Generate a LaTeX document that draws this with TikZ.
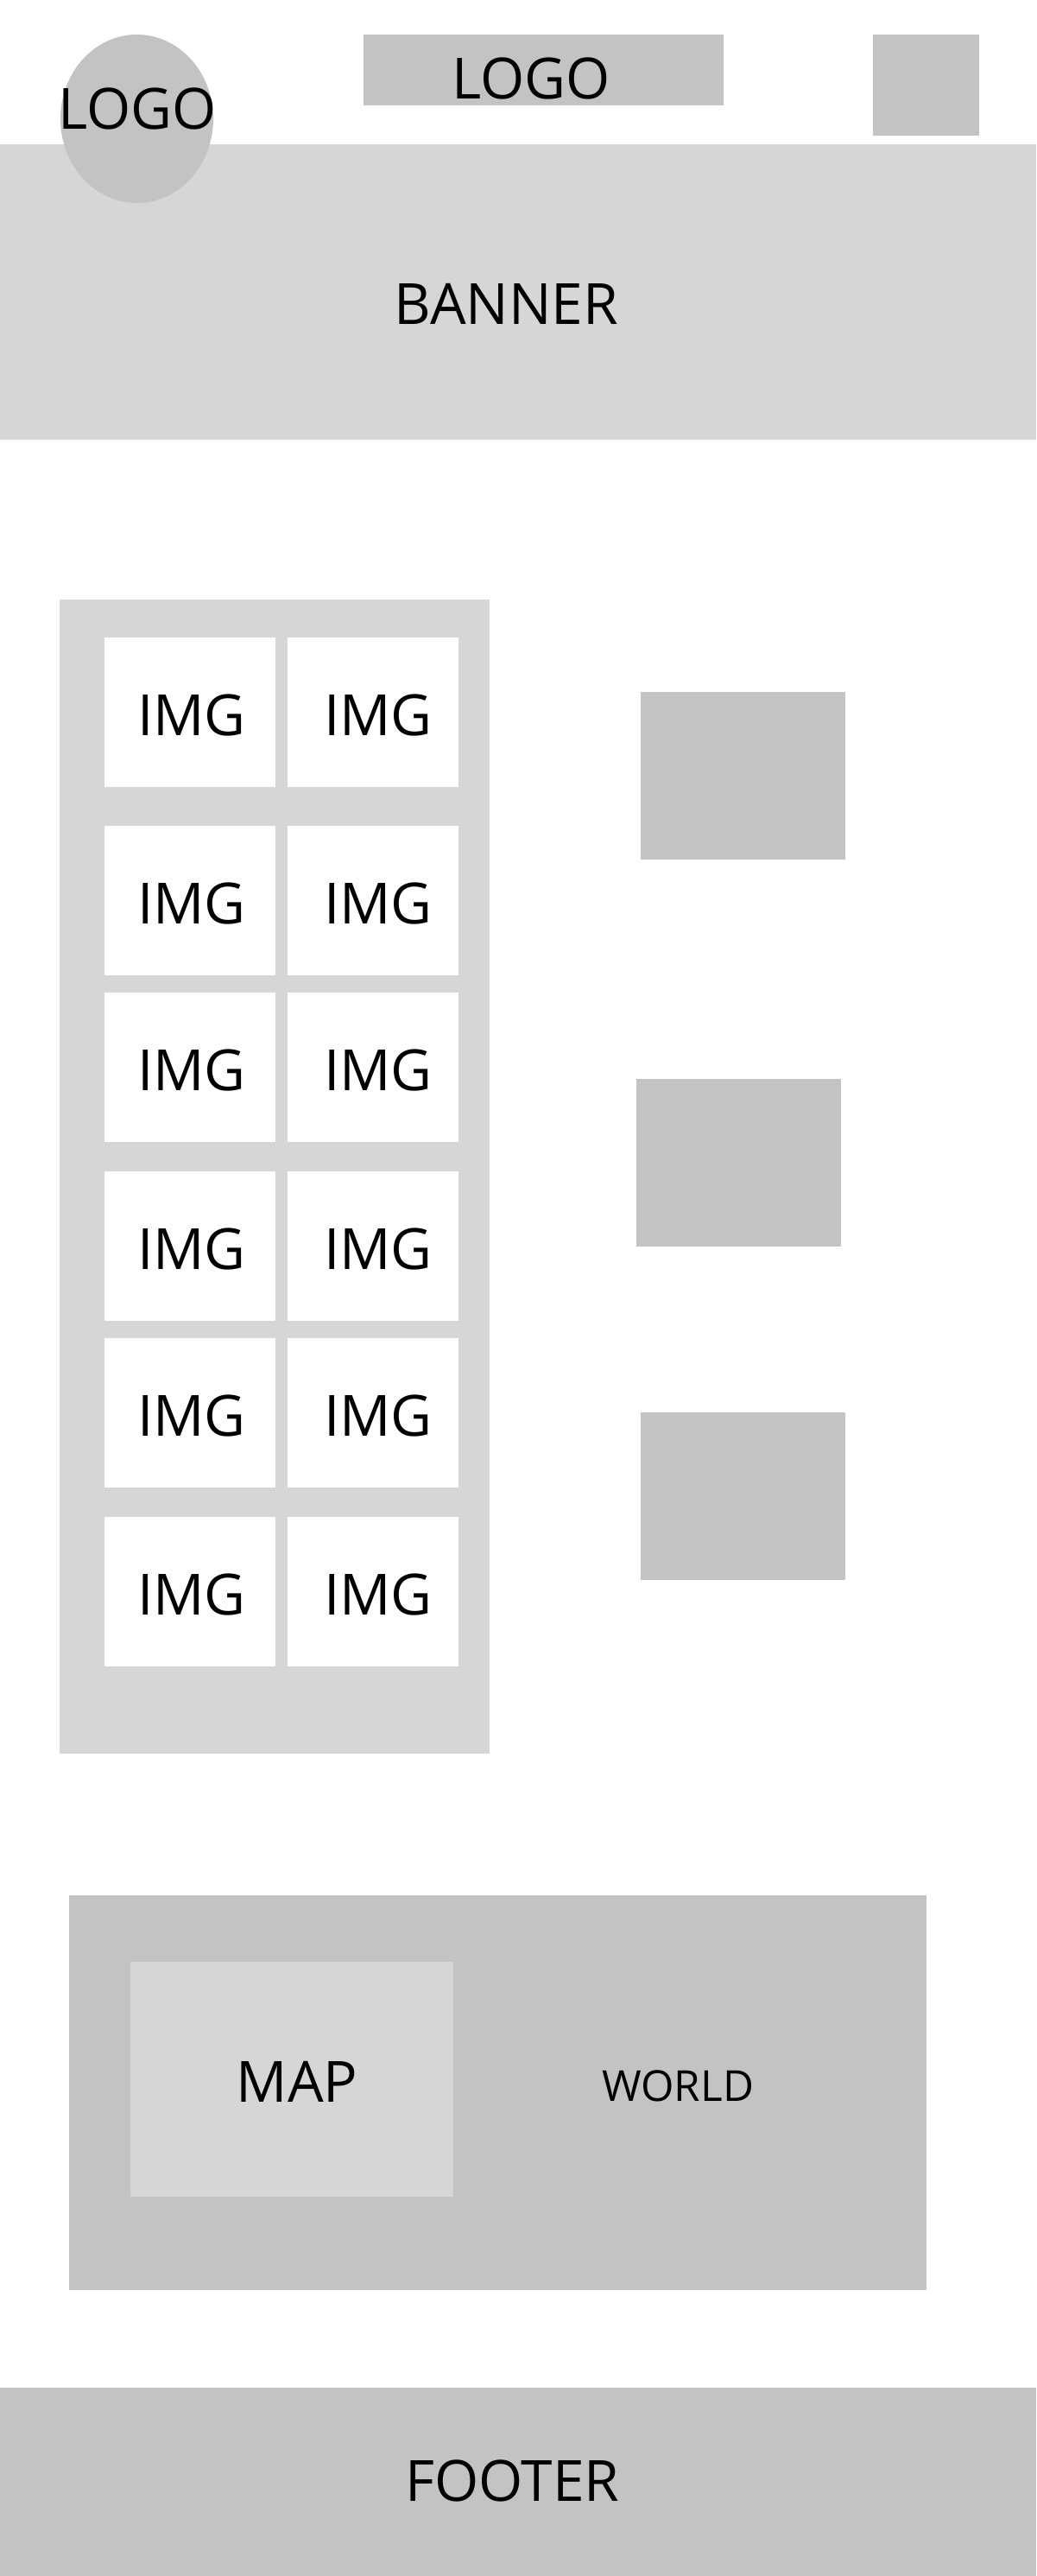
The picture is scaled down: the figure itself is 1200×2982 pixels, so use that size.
\documentclass[tikz,border=0pt]{standalone}
\usepackage{fontspec}
\setmainfont{Open Sans}
\usetikzlibrary{shapes.geometric}
\definecolor{panelgray}{HTML}{D6D6D6}
\definecolor{blockgray}{HTML}{C3C3C3}
\begin{document}
\begin{tikzpicture}[x=1pt,y=-1pt,
  box/.style={draw=none,inner sep=0pt,outer sep=0pt},
  light/.style={box,fill=panelgray},
  dark/.style={box,fill=blockgray},
  tile/.style={box,fill=white,minimum width=198pt,minimum height=173pt},
  sideblock/.style={dark,minimum width=237pt,minimum height=194pt},
  bigtext/.style={inner sep=0pt,font=\fontsize{65.8}{79}\selectfont},
  smalltext/.style={inner sep=0pt,font=\fontsize{49.4}{59}\selectfont}]
\useasboundingbox (0,0) rectangle (1200,2982);
\fill[white] (0,0) rectangle (1200,2982);

% header
\node[light,minimum width=1200pt,minimum height=342pt] (banner) at (600,338) {};
\node[dark,ellipse,minimum width=177pt,minimum height=195pt] (logoround) at (158.5,137.5) {};
\node[dark,minimum width=417pt,minimum height=82pt] (logobar) at (629.5,81) {};
\node[dark,minimum width=123pt,minimum height=117pt] (corner) at (1072.5,98.5) {};
\node[bigtext] (logoroundtext) at (159,126) {LOGO};
\node[bigtext] (logobartext) at (615,91) {LOGO};
\node[bigtext] (bannertext) at (586.5,351.5) {BANNER};

% gallery
\node[light,minimum width=498pt,minimum height=1336pt] (gallery) at (318,1362) {};
\foreach \r/\y in {1/824.5,2/1042.5,3/1235.5,4/1442.5,5/1635.5,6/1842.5}{
  \node[tile] (tileA\r) at (220,\y) {};
  \node[tile] (tileB\r) at (432,\y) {};
  \node[bigtext] (imgA\r) at (222,\y+3) {IMG};
  \node[bigtext] (imgB\r) at (438,\y+3) {IMG};
}

% side blocks
\node[sideblock] (sideone) at (860.5,897.5) {};
\node[sideblock] (sidetwo) at (855.5,1345.5) {};
\node[sideblock] (sidethree) at (860.5,1732) {};

% map section
\node[dark,minimum width=993pt,minimum height=457pt] (mappanel) at (576.5,2422.5) {};
\node[light,minimum width=374pt,minimum height=272pt] (mapbox) at (338,2407) {};
\node[bigtext] (maptext) at (344,2409.5) {MAP};
\node[smalltext] (worldtext) at (785,2415) {WORLD};

% footer
\node[dark,minimum width=1200pt,minimum height=218pt] (footer) at (600,2873) {};
\node[bigtext] (footertext) at (593.5,2872) {FOOTER};
\end{tikzpicture}
\end{document}
